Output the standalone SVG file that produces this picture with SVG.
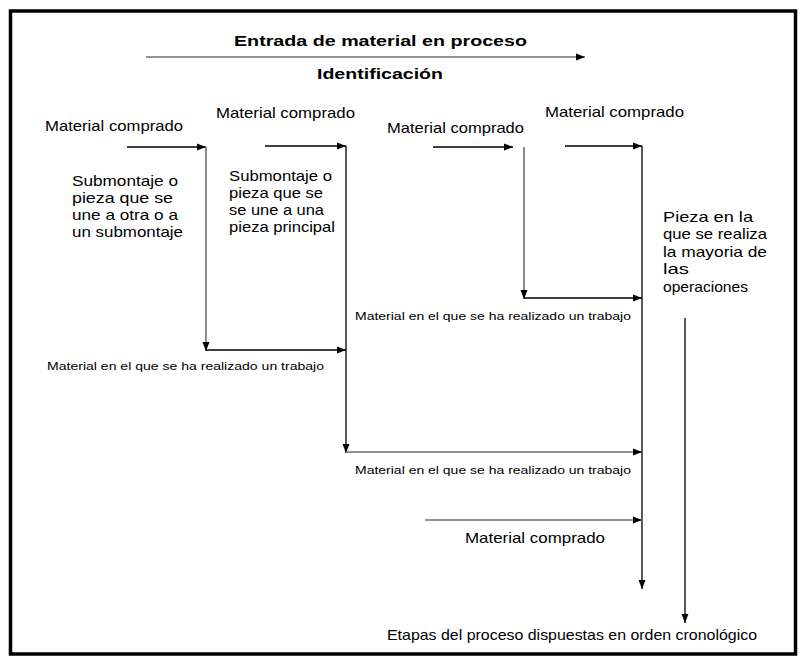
<svg xmlns="http://www.w3.org/2000/svg" width="803" height="659" viewBox="0 0 803 659">
  <style>
    text { font-family: "Liberation Sans", Arial, sans-serif; fill: #000; }
    .title { font-size: 15.5px; font-weight: bold; }
    .lbl { font-size: 15px; }
    .small { font-size: 11.5px; }
    .flow { stroke: #000; stroke-width: 1.3; fill: none; }
    .grey { stroke: #6e6e6e; stroke-width: 1.6; fill: none; }
  </style>
  <defs>
    <marker id="arrow" markerUnits="userSpaceOnUse" markerWidth="10" markerHeight="8" refX="9" refY="4" orient="auto">
      <path d="M0,0.5 L9,4 L0,7.5 Z" fill="#000"/>
    </marker>
  </defs>

  <!-- outer frame -->
  <rect x="10.5" y="11" width="785" height="643" fill="#fff" stroke="#000" stroke-width="3.5"/>

  <!-- heading -->
  <g id="heading">
    <text class="title" x="234" y="46" textLength="293" lengthAdjust="spacingAndGlyphs">Entrada de material en proceso</text>
    <text class="title" x="317" y="79" textLength="126" lengthAdjust="spacingAndGlyphs">Identificación</text>
  </g>

  <!-- connectors -->
  <g id="connectors">
    <line class="grey" x1="146" y1="57" x2="585" y2="57" marker-end="url(#arrow)"/>

    <!-- first branch -->
    <line class="flow" x1="127" y1="147" x2="206" y2="147" marker-end="url(#arrow)"/>
    <line class="grey" x1="206" y1="147" x2="206" y2="351" marker-end="url(#arrow)"/>
    <line class="flow" x1="206" y1="350" x2="346" y2="350" marker-end="url(#arrow)"/>

    <!-- second branch -->
    <line class="flow" x1="265" y1="146" x2="346" y2="146" marker-end="url(#arrow)"/>
    <line class="flow" x1="346" y1="146" x2="346" y2="453" marker-end="url(#arrow)"/>
    <line class="grey" x1="346" y1="452" x2="642" y2="452" marker-end="url(#arrow)"/>

    <!-- third branch -->
    <line class="flow" x1="433" y1="147" x2="513" y2="147" marker-end="url(#arrow)"/>
    <line class="grey" x1="524" y1="147" x2="524" y2="299" marker-end="url(#arrow)"/>
    <line class="flow" x1="524" y1="298" x2="642" y2="298" marker-end="url(#arrow)"/>

    <!-- main part line -->
    <line class="flow" x1="565" y1="146" x2="642" y2="146" marker-end="url(#arrow)"/>
    <line class="flow" x1="642" y1="146" x2="642" y2="589" marker-end="url(#arrow)"/>
    <line class="grey" x1="425" y1="520" x2="642" y2="520" marker-end="url(#arrow)"/>

    <!-- chronological axis -->
    <line class="flow" x1="685" y1="318" x2="685" y2="623" marker-end="url(#arrow)"/>
  </g>

  <g id="mat-1">
    <text class="lbl" x="45" y="131" textLength="138" lengthAdjust="spacingAndGlyphs">Material comprado</text>
  </g>
  <g id="sub-1">
    <text class="lbl" x="72" y="186" textLength="106" lengthAdjust="spacingAndGlyphs">Submontaje o</text>
    <text class="lbl" x="72" y="203" textLength="101" lengthAdjust="spacingAndGlyphs">pieza que se</text>
    <text class="lbl" x="72" y="220" textLength="106" lengthAdjust="spacingAndGlyphs">une a otra o a</text>
    <text class="lbl" x="72" y="237" textLength="111" lengthAdjust="spacingAndGlyphs">un submontaje</text>
  </g>

  <g id="mat-2">
    <text class="lbl" x="216" y="118" textLength="139" lengthAdjust="spacingAndGlyphs">Material comprado</text>
  </g>
  <g id="sub-2">
    <text class="lbl" x="229" y="181" textLength="103" lengthAdjust="spacingAndGlyphs">Submontaje o</text>
    <text class="lbl" x="229" y="198" textLength="94" lengthAdjust="spacingAndGlyphs">pieza que se</text>
    <text class="lbl" x="229" y="215" textLength="95" lengthAdjust="spacingAndGlyphs">se une a una</text>
    <text class="lbl" x="229" y="232" textLength="106" lengthAdjust="spacingAndGlyphs">pieza principal</text>
  </g>

  <g id="work-1">
    <text class="small" x="47" y="370" textLength="277" lengthAdjust="spacingAndGlyphs">Material en el que se ha realizado un trabajo</text>
  </g>

  <g id="mat-3">
    <text class="lbl" x="387" y="133" textLength="137" lengthAdjust="spacingAndGlyphs">Material comprado</text>
  </g>
  <g id="work-3">
    <text class="small" x="355" y="320" textLength="276" lengthAdjust="spacingAndGlyphs">Material en el que se ha realizado un trabajo</text>
  </g>

  <g id="mat-4">
    <text class="lbl" x="545" y="117" textLength="139" lengthAdjust="spacingAndGlyphs">Material comprado</text>
  </g>
  <g id="main-part">
    <text class="lbl" x="663" y="222" textLength="90" lengthAdjust="spacingAndGlyphs">Pieza en la</text>
    <text class="lbl" x="663" y="239" textLength="104" lengthAdjust="spacingAndGlyphs">que se realiza</text>
    <text class="lbl" x="663" y="257" textLength="104" lengthAdjust="spacingAndGlyphs">la mayoria de</text>
    <text class="lbl" x="663" y="274" textLength="26" lengthAdjust="spacingAndGlyphs">las</text>
    <text class="lbl" x="663" y="292" textLength="85" lengthAdjust="spacingAndGlyphs">operaciones</text>
  </g>

  <g id="work-2">
    <text class="small" x="355" y="474" textLength="276" lengthAdjust="spacingAndGlyphs">Material en el que se ha realizado un trabajo</text>
  </g>

  <g id="mat-5">
    <text class="lbl" x="465" y="543" textLength="140" lengthAdjust="spacingAndGlyphs">Material comprado</text>
  </g>

  <g id="stages">
    <text class="lbl" x="387" y="640" textLength="370" lengthAdjust="spacingAndGlyphs">Etapas del proceso dispuestas en orden cronológico</text>
  </g>
</svg>
